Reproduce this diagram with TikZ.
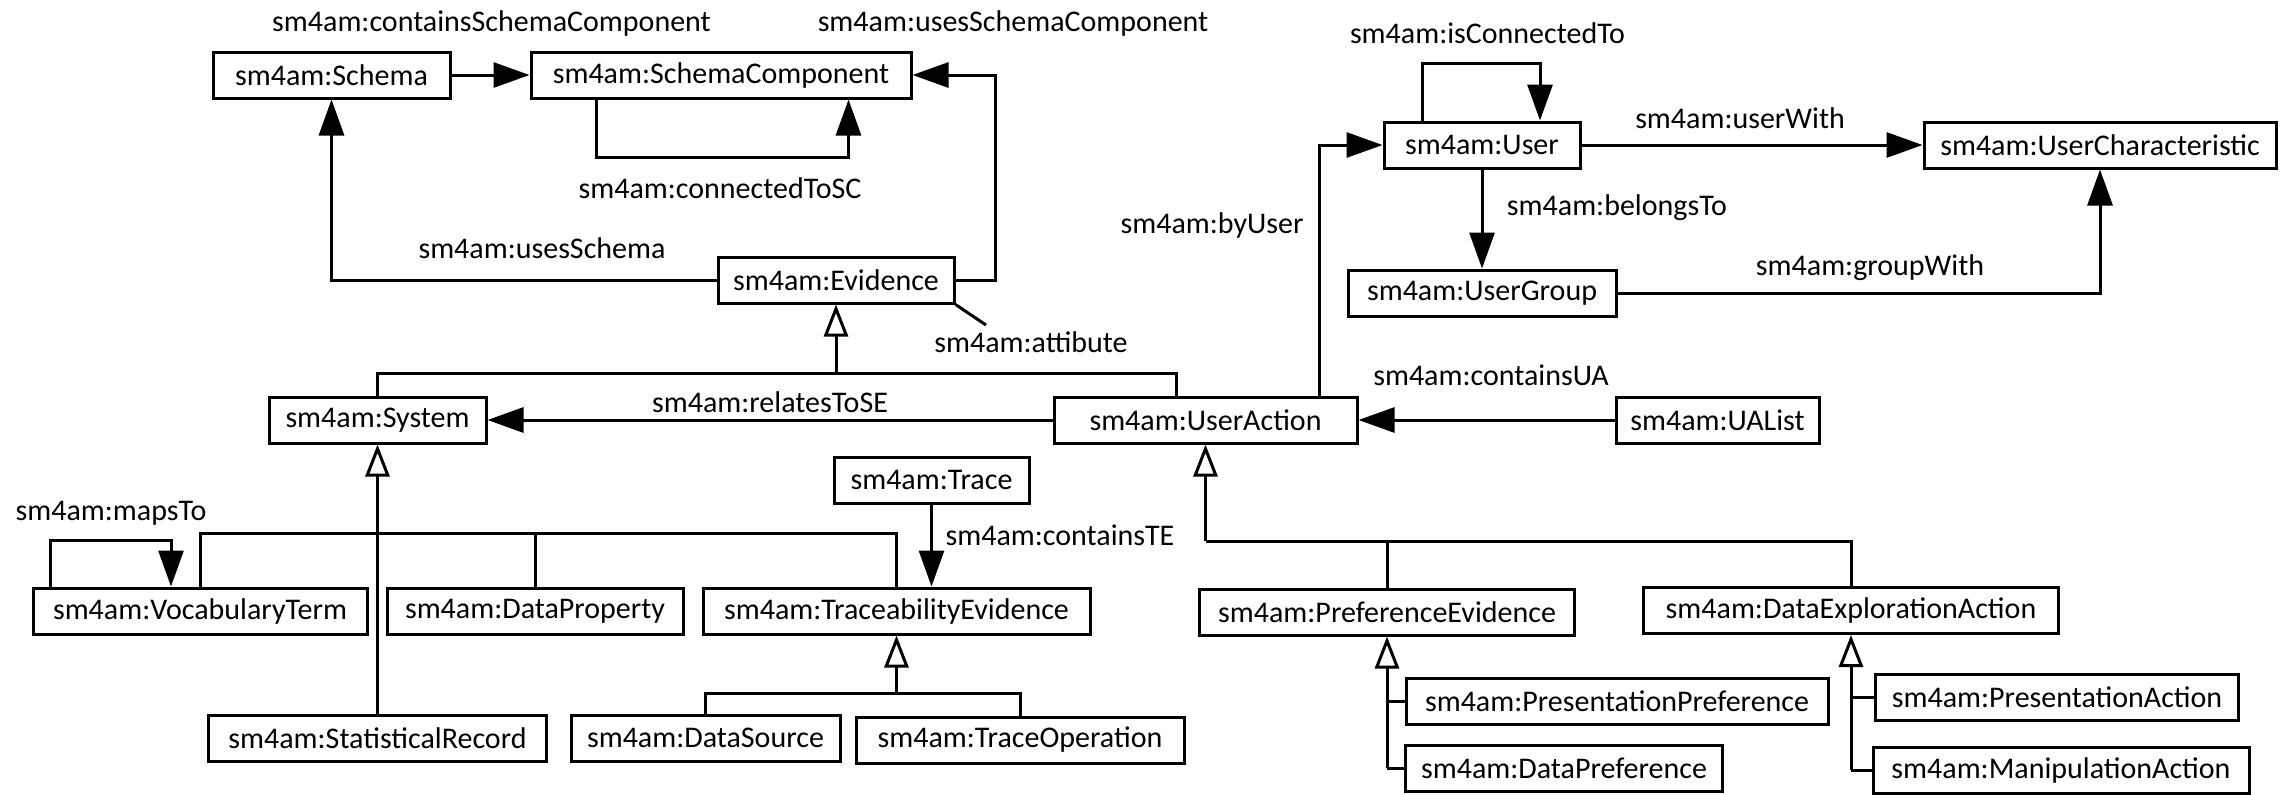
\documentclass[tikz,border=0pt]{standalone}
\usepackage{fontspec}
\setmainfont{Carlito}
\usetikzlibrary{arrows.meta,calc}
\begin{document}
\begin{tikzpicture}[x=0.5pt,y=-0.5pt,
  box/.style={draw=black,line width=1.5pt,inner sep=0pt,minimum height=23pt,font=\fontsize{15pt}{18pt}\selectfont,fill=white},
  lbl/.style={inner sep=0pt,font=\fontsize{15pt}{18pt}\selectfont},
  conn/.style={draw=black,line width=1.5pt},
  arr/.style={conn,-{Triangle[length=18pt,width=12.5pt]}},
  gen/.style={conn,-{Triangle[length=16pt,width=12pt,fill=white]}},
]
\useasboundingbox (0,0) rectangle (2285,794);

% boxes
\node[box,minimum width=118.5pt] (schema) at (331.5,75) {sm4am:Schema};
\node[box,minimum width=190pt] (sc) at (721,75) {sm4am:SchemaComponent};
\node[box,minimum width=118pt] (evidence) at (836,280) {sm4am:Evidence};
\node[box,minimum width=108.5pt] (system) at (377.5,420) {sm4am:System};
\node[box,minimum width=151.5pt] (ua) at (1205.5,420) {sm4am:UserAction};
\node[box,minimum width=98pt] (user) at (1482,145) {sm4am:User};
\node[box,minimum width=176pt] (uchar) at (2100,145) {sm4am:UserCharacteristic};
\node[box,minimum width=134pt] (ugroup) at (1482,293) {sm4am:UserGroup};
\node[box,minimum width=101.5pt] (ualist) at (1717.5,420) {sm4am:UAList};
\node[box,minimum width=97.5pt] (trace) at (931.5,480) {sm4am:Trace};
\node[box,minimum width=167pt] (vt) at (200,611) {sm4am:VocabularyTerm};
\node[box,minimum width=148pt] (dp) at (535,611) {sm4am:DataProperty};
\node[box,minimum width=193.5pt] (te) at (896.5,611) {sm4am:TraceabilityEvidence};
\node[box,minimum width=169pt] (sr) at (377.5,738) {sm4am:StatisticalRecord};
\node[box,minimum width=134.5pt] (ds) at (705.5,738) {sm4am:DataSource};
\node[box,minimum width=164pt] (to) at (1020,740) {sm4am:TraceOperation};
\node[box,minimum width=187.5pt] (pe) at (1387,612) {sm4am:PreferenceEvidence};
\node[box,minimum width=207.5pt] (dea) at (1851,610.5) {sm4am:DataExplorationAction};
\node[box,minimum width=211pt] (pp) at (1617,701) {sm4am:PresentationPreference};
\node[box,minimum width=158.5pt] (dpref) at (1564,768) {sm4am:DataPreference};
\node[box,minimum width=181.5pt] (pa) at (2057,697) {sm4am:PresentationAction};
\node[box,minimum width=188pt] (ma) at (2061,770) {sm4am:ManipulationAction};

% labels
\node[lbl] (lcsc) at (491.5,23) {sm4am:containsSchemaComponent};
\node[lbl] (lusc) at (1013,23) {sm4am:usesSchemaComponent};
\node[lbl] (lctsc) at (720,188) {sm4am:connectedToSC};
\node[lbl] (lus) at (542,248) {sm4am:usesSchema};
\node[lbl] (latt) at (1031,342) {sm4am:attibute};
\node[lbl] (lrse) at (770,402) {sm4am:relatesToSE};
\node[lbl] (lbu) at (1212,225) {sm4am:byUser};
\node[lbl] (lict) at (1487.5,33) {sm4am:isConnectedTo};
\node[lbl] (luw) at (1740,118) {sm4am:userWith};
\node[lbl] (lbt) at (1617,208) {sm4am:belongsTo};
\node[lbl] (lgw) at (1870,268) {sm4am:groupWith};
\node[lbl] (lcua) at (1491,375) {sm4am:containsUA};
\node[lbl] (lcte) at (1060,535) {sm4am:containsTE};
\node[lbl] (lmt) at (111,513) {sm4am:mapsTo};

% associations
\draw[arr] (schema.east) -- (sc.west);
\draw[arr] (596,0 |- sc.south) -- (596,157) -- (848.5,157) -- (848.5,0 |- sc.south);
\draw[arr] (evidence.east) -- (995,280) |- (sc.east);
\draw[arr] (evidence.west) -| (schema.south);
\draw[conn] (evidence.south east) -- (986,325);
\draw[arr] (1319,0 |- ua.north) |- (user.west);
\draw[arr] (1422,0 |- user.north) -- (1422,63) -- (1540,63) -- (1540,0 |- user.north);
\draw[arr] (user.east) -- (uchar.west);
\draw[arr] (user.south) -- (ugroup.north);
\draw[arr] (ugroup.east) -| (uchar.south);
\draw[arr] (ualist.west) -- (ua.east);
\draw[arr] (ua.west) -- (system.east);
\draw[arr] (50,0 |- vt.north) -- (50,540) -- (171,540) -- (171,0 |- vt.north);
\draw[arr] (trace.south) -- (trace.south |- te.north);

% generalizations
\coordinate (jev) at (836,373);
\draw[conn] (system.north) |- (1176.5,373) -- (1176.5,0 |- ua.north);
\draw[gen] (jev) -- (evidence.south);

\coordinate (jsys) at (377.5,533);
\draw[conn] (vt.north) -- (200,533) -- (896.5,533) -- (te.north);
\draw[conn] (dp.north) -- (535,533);
\draw[gen] (sr.north) -- (system.south);

\coordinate (jte) at (896.5,693);
\draw[conn] (ds.north) -- (705.5,693) -- (1020,693) -- (to.north);
\draw[gen] (jte) -- (te.south);

\coordinate (jua) at (1205.5,541);
\draw[conn] (jua) -- (1851,541) -- (dea.north);
\draw[conn] (pe.north) -- (1387,541);
\draw[gen] (jua) -- (ua.south);

\coordinate (jpe) at (1387,768);
\draw[conn] (1387,0 |- pp.west) -- (pp.west);
\draw[conn] (jpe) -- (dpref.west);
\draw[gen] (jpe) -- (pe.south);

\coordinate (jdea) at (1851,770);
\draw[conn] (1851,0 |- pa.west) -- (pa.west);
\draw[conn] (jdea) -- (ma.west);
\draw[gen] (jdea) -- (dea.south);
\end{tikzpicture}
\end{document}
